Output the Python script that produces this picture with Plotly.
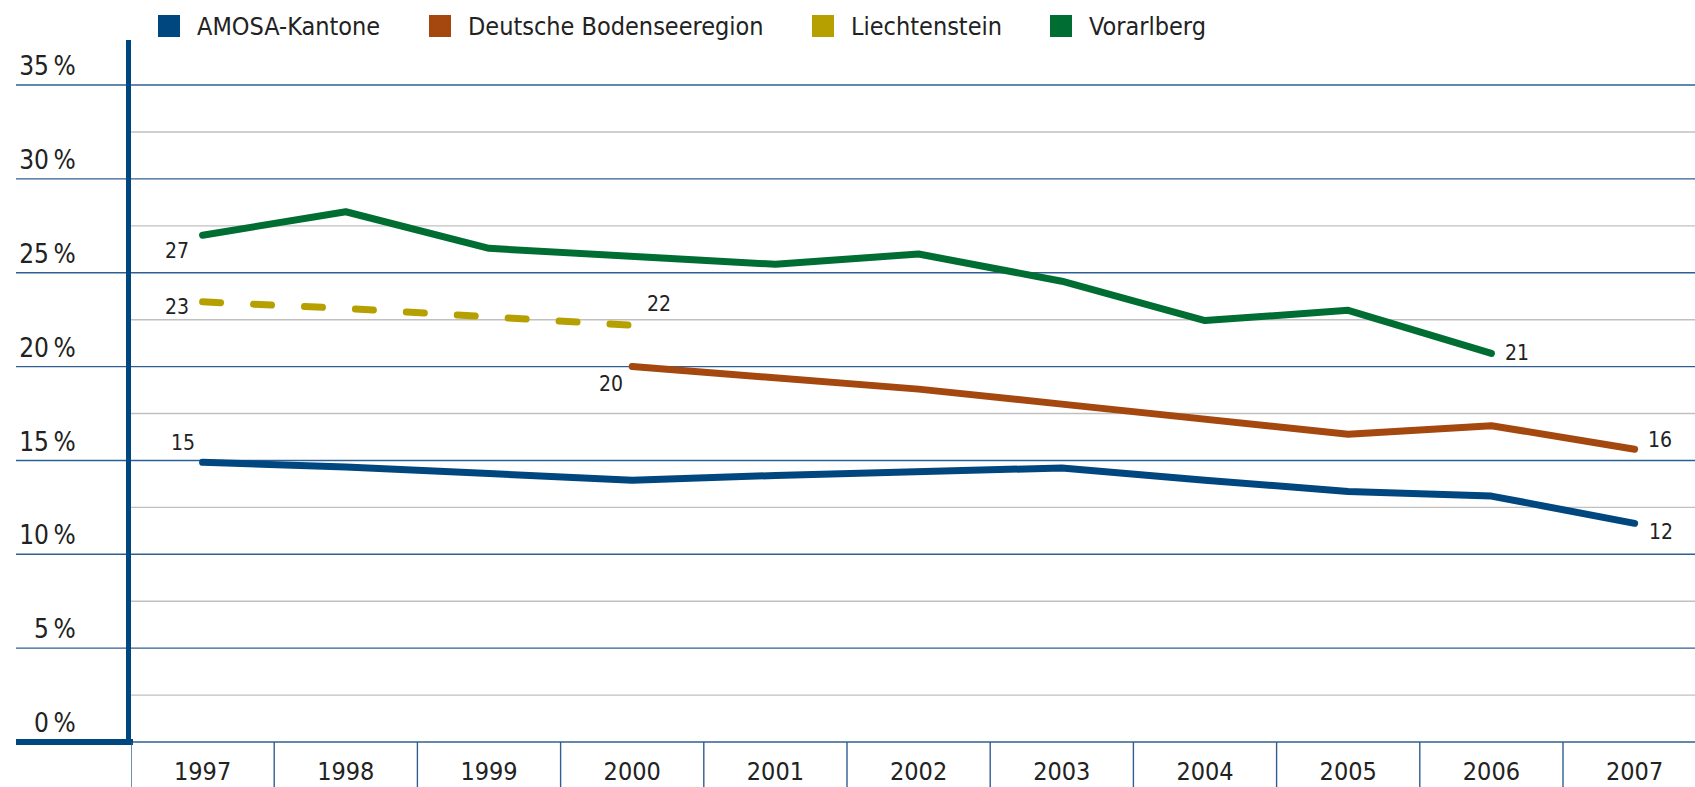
import plotly.graph_objects as go

# ---------------- data ----------------
years = [1997, 1998, 1999, 2000, 2001, 2002, 2003, 2004, 2005, 2006, 2007]
amosa = [14.9, 14.65, 14.3, 13.95, 14.2, 14.4, 14.6, 13.95, 13.35, 13.1, 11.65]

deutsch_years = [2000, 2001, 2002, 2003, 2004, 2005, 2006, 2007]
deutsch = [20.0, 19.4, 18.8, 18.0, 17.2, 16.4, 16.85, 15.6]

liech_years = [1997, 1998, 1999, 2000]
liech = [23.45, 23.1, 22.65, 22.2]

vorarl_years = [1997, 1998, 1999, 2000, 2001, 2002, 2003, 2004, 2005, 2006]
vorarl = [27.0, 28.25, 26.3, 25.9, 25.45, 26.0, 24.55, 22.45, 23.0, 20.7]

series_names = ["AMOSA-Kantone", "Deutsche Bodenseeregion", "Liechtenstein", "Vorarlberg"]
y_major = [0, 5, 10, 15, 20, 25, 30, 35]
y_minor = [2.5, 7.5, 12.5, 17.5, 22.5, 27.5, 32.5]
y_ticktext = ["0\u2009%", "5\u2009%", "10\u2009%", "15\u2009%", "20\u2009%", "25\u2009%", "30\u2009%", "35\u2009%"]
year_labels = [str(y) for y in years]

# ---------------- style ----------------
W, H = 1695, 787
ML, MR, MT, MB = 131, 0, 40, 45
PW, PH = W - ML - MR, H - MT - MB
COLORS = ["#00477f", "#a5480f", "#b5a000", "#006e33"]
GRID_BLUE = "#2f5f92"
GRID_GREY = "#c0c0c0"
AXIS_BLUE = "#00477f"
TXT = "#222222"
FONT = "Liberation Sans Narrow, DejaVu Sans Condensed, Liberation Sans, sans-serif"
LW = 7


def px_x(px):
    return (px - ML) / PW


def px_y(py):
    return (H - MB - py) / PH


fig = go.Figure()

fig.add_trace(go.Scatter(x=years, y=amosa, mode="lines", name=series_names[0],
                         line=dict(color=COLORS[0], width=LW), showlegend=False))
fig.add_trace(go.Scatter(x=deutsch_years, y=deutsch, mode="lines", name=series_names[1],
                         line=dict(color=COLORS[1], width=LW), showlegend=False))
fig.add_trace(go.Scatter(x=liech_years, y=liech, mode="lines", name=series_names[2],
                         line=dict(color=COLORS[2], width=LW, dash="18px,33px"), showlegend=False))
fig.add_trace(go.Scatter(x=vorarl_years, y=vorarl, mode="lines", name=series_names[3],
                         line=dict(color=COLORS[3], width=LW), showlegend=False))

shapes = []
# minor grey gridlines (inside plot)
for v in y_minor:
    shapes.append(dict(type="line", xref="paper", yref="y", x0=0, x1=1, y0=v, y1=v,
                       line=dict(color=GRID_GREY, width=1.4), layer="below"))
# major blue gridlines (extend left past the axis)
for v in y_major[1:]:
    shapes.append(dict(type="line", xref="paper", yref="y", x0=px_x(16), x1=1, y0=v, y1=v,
                       line=dict(color=GRID_BLUE, width=1.4), layer="below"))
# zero line: thin across plot, thick to the left
shapes.append(dict(type="line", xref="paper", yref="paper", x0=0, x1=1, y0=0, y1=0,
                   line=dict(color=GRID_BLUE, width=1.4), layer="below"))
shapes.append(dict(type="line", xref="paper", yref="paper", x0=px_x(16), x1=px_x(133), y0=0, y1=0,
                   line=dict(color=AXIS_BLUE, width=6)))
# category separators below the plot
for k in range(len(years) + 1):
    xv = years[0] - 0.5 + k
    shapes.append(dict(type="line", xref="x", yref="paper", x0=xv, x1=xv,
                       y0=0, y1=px_y(H), line=dict(color=GRID_BLUE, width=1.4)))

annotations = []
# end-point labels
labels = [
    (years[0], amosa[0], "right", -6, 19),
    (years[-1], amosa[-1], "left", 12, -9),
    (deutsch_years[0], deutsch[0], "right", -7, -17),
    (deutsch_years[-1], deutsch[-1], "left", 11, 9),
    (liech_years[0], liech[0], "right", -12, -5),
    (liech_years[-1], liech[-1], "left", 13, 21),
    (vorarl_years[0], vorarl[0], "right", -12, -16),
    (vorarl_years[-1], vorarl[-1], "left", 12, 0),
]
for xv, yv, anc, xs, ys in labels:
    annotations.append(dict(x=xv, y=yv, xref="x", yref="y", text=str(round(yv)), showarrow=False,
                            xanchor=anc, yanchor="middle", xshift=xs, yshift=ys,
                            font=dict(family=FONT, size=21, color=TXT)))

# legend (square swatches + text)
leg_sq_left = [158, 429, 812, 1050]
SQ = 22
for name, col, left in zip(series_names, COLORS, leg_sq_left):
    shapes.append(dict(type="rect", xref="paper", yref="paper",
                       x0=px_x(left), x1=px_x(left + SQ), y0=px_y(37), y1=px_y(15),
                       fillcolor=col, line=dict(width=0)))
    annotations.append(dict(x=px_x(left + SQ + 15), y=px_y(26), xref="paper", yref="paper",
                            text=name, showarrow=False, xanchor="left", yanchor="middle",
                            font=dict(family=FONT, size=25, color=TXT)))

fig.update_layout(
    width=W, height=H,
    margin=dict(l=ML, r=MR, t=MT, b=MB, pad=0, autoexpand=False),
    paper_bgcolor="white", plot_bgcolor="white",
    showlegend=False,
    shapes=shapes, annotations=annotations,
    font=dict(family=FONT, color=TXT),
    xaxis=dict(range=[years[0] - 0.5, years[0] - 0.5 + PW / 143.2], tickvals=years, ticktext=year_labels,
               showgrid=False, zeroline=False, showline=False, ticks="", automargin=False,
               tickfont=dict(family=FONT, size=25, color=TXT), ticklabelstandoff=12, fixedrange=True),
    yaxis=dict(range=[0, PH / 18.77], tickvals=y_major, ticktext=y_ticktext, automargin=False,
               showgrid=False, zeroline=False, showline=True, linecolor=AXIS_BLUE, linewidth=5,
               ticks="", tickfont=dict(family=FONT, size=26, color=TXT),
               ticklabelstandoff=45, ticklabelshift=-19, fixedrange=True),
)

fig.write_html("out.html", config={"displayModeBar": False},
               post_script=("document.body.style.margin='0';document.body.style.overflow='hidden';"
                            "document.querySelectorAll('.scatterlayer .js-line').forEach(function(p){"
                            "p.style.strokeLinecap='round';p.style.strokeLinejoin='round';});"))
